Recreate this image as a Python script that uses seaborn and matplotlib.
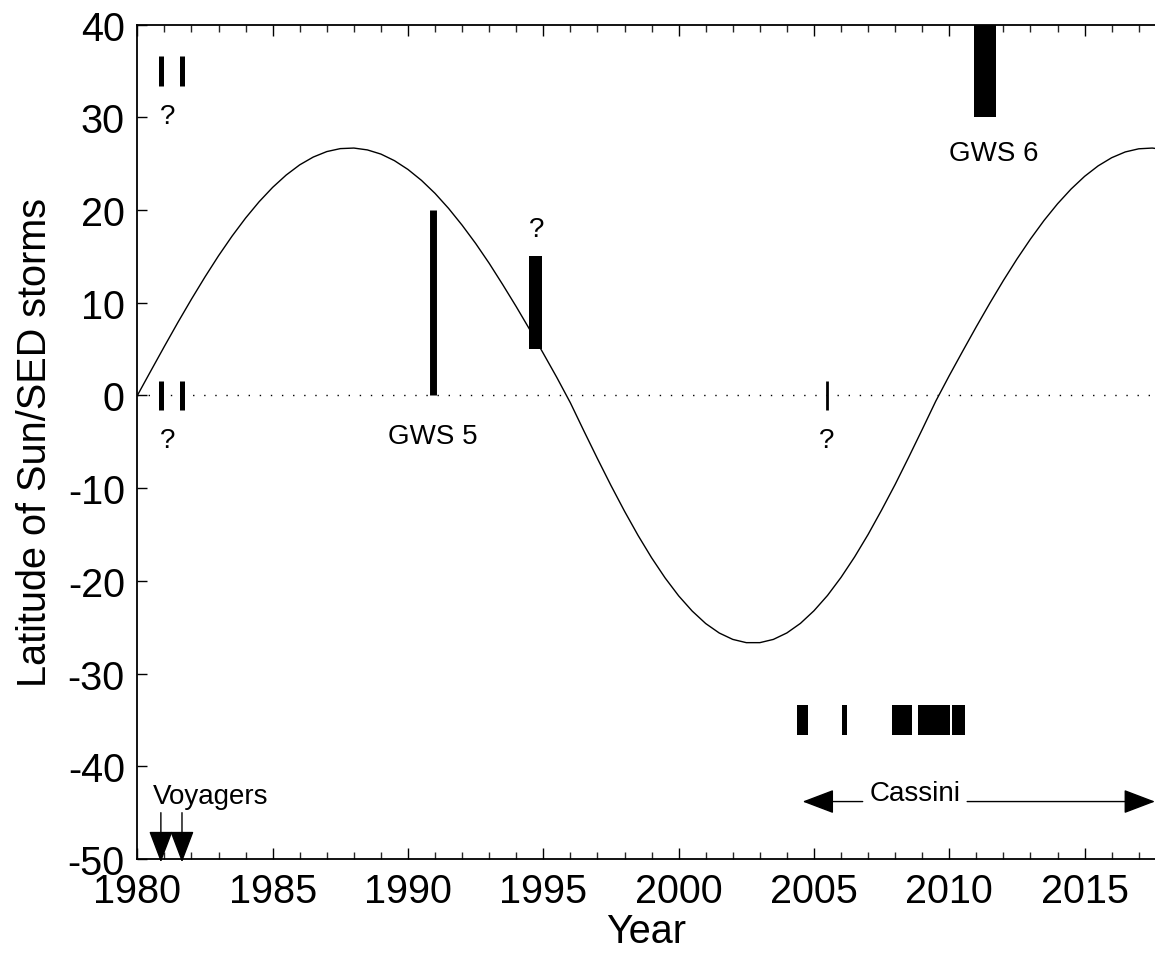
import matplotlib
matplotlib.use("Agg")
import matplotlib.pyplot as plt
import pandas as pd
import seaborn as sns

# Sub-solar latitude on Saturn, sampled every half year from 1980.0 to 2018.0
years = [1980 + 0.5 * i for i in range(77)]
sun_latitude = [
    0.0, 2.66, 5.30, 7.89, 10.39, 12.79, 15.07, 17.19, 19.14, 20.90,
    22.45, 23.78, 24.88, 25.72, 26.31, 26.63, 26.69, 26.49, 26.04, 25.33,
    24.38, 23.20, 21.80, 20.18, 18.37, 16.40, 14.26, 11.96, 9.58, 7.10,
    4.54, 1.94, -0.79, -3.83, -6.81, -9.71, -12.48, -15.09, -17.50, -19.68,
    -21.61, -23.25, -24.60, -25.62, -26.31, -26.66, -26.66, -26.31, -25.61, -24.58,
    -23.22, -21.57, -19.62, -17.42, -14.99, -12.35, -9.59, -6.66, -3.66, -0.61,
    2.15, 4.81, 7.43, 9.97, 12.41, 14.72, 16.88, 18.88, 20.68, 22.27,
    23.64, 24.77, 25.65, 26.27, 26.61, 26.69, 26.50,
]

# Voyager-era SED storms (uncertain latitude: +35 or 0)
voyager_storm_years = [1980.87, 1981.65]
voyager_storm_lats = [35, 0]

# Great White Spot 1990 (0 to 20 deg)
gws5_year = 1990.92
gws5_lat = (0, 20)

# 1994 storm (5 to 15 deg)
storm94_span = (1994.46, 1994.95)
storm94_lat = (5, 15)

# Great White Spot 2010/2011 (30 to 40 deg)
gws6_span = (2010.91, 2011.71)
gws6_lat = (30, 40)

# 2005 storm of uncertain latitude
storm05_year = 2005.47

# Cassini storms in the -35 deg "storm alley"
cassini_storm_start = [2004.38, 2006.04, 2007.89, 2008.83, 2010.11]
cassini_storm_end = [2004.79, 2006.23, 2008.61, 2010.02, 2010.58]
cassini_storm_lat = -35

# Spacecraft epochs
voyager_flybys = [1980.87, 1981.65]
cassini_start = 2004.58

mark_half = 1.6

sns.set_theme(style="ticks")
plt.rcParams["font.family"] = ["Liberation Sans", "DejaVu Sans"]
plt.rcParams["axes.unicode_minus"] = False
plt.rcParams["text.color"] = "black"

fig = plt.figure(figsize=(11.55, 9.54), dpi=100)
ax = fig.add_axes([0.1189, 0.0985, 0.8811, 0.8746])

df = pd.DataFrame({"Year": years, "Latitude": sun_latitude})
sns.lineplot(data=df, x="Year", y="Latitude", ax=ax, color="black", lw=1.0)

# equator
ax.axhline(0, color="black", lw=1.0, ls=(0, (1, 7)), zorder=1)

# short marks for storms of uncertain latitude
for lat in voyager_storm_lats:
    ax.vlines(voyager_storm_years, lat - mark_half, lat + mark_half,
              color="black", lw=3.6)
ax.vlines([storm05_year], -mark_half, mark_half, color="black", lw=2.0)

# GWS 5
ax.vlines([gws5_year], gws5_lat[0], gws5_lat[1], color="black", lw=5.0)

# 1994 storm and GWS 6
for span, lat in [(storm94_span, storm94_lat), (gws6_span, gws6_lat)]:
    ax.bar(span[0], lat[1] - lat[0], width=span[1] - span[0], bottom=lat[0],
           align="edge", color="black", edgecolor="none")

# Cassini storms
ax.bar(cassini_storm_start,
       [2 * mark_half] * len(cassini_storm_start),
       width=[e - s for s, e in zip(cassini_storm_start, cassini_storm_end)],
       bottom=cassini_storm_lat - mark_half, align="edge",
       color="black", edgecolor="none")

small = 20
txt = dict(fontsize=small, color="black")
ax.text(1981.13, 30.1, "?", ha="center", va="center", **txt)
ax.text(1981.13, -4.8, "?", ha="center", va="center", **txt)
ax.text(1994.77, 18.0, "?", ha="center", va="center", **txt)
ax.text(2005.47, -4.8, "?", ha="center", va="center", **txt)
ax.text(1990.92, -4.4, "GWS 5", ha="center", va="center", **txt)
ax.text(2011.63, 26.2, "GWS 6", ha="center", va="center", **txt)
ax.text(1980.58, -43.2, "Voyagers", ha="left", va="center", **txt)
ax.text(2008.73, -42.9, "Cassini", ha="center", va="center", **txt)

arrow = dict(arrowstyle="-|>,head_length=1.0,head_width=0.38",
             mutation_scale=20, color="black", lw=1.0,
             shrinkA=0, shrinkB=0)
for yr in voyager_flybys:
    ax.annotate("", xy=(yr, -50.35), xytext=(yr, -45.0),
                arrowprops=arrow, annotation_clip=False)
ax.annotate("", xy=(cassini_start, -43.8), xytext=(2006.8, -43.8),
            arrowprops=arrow, annotation_clip=False)
ax.annotate("", xy=(2017.6, -43.8), xytext=(2010.66, -43.8),
            arrowprops=arrow, annotation_clip=False)

ax.set_xlim(1980, 2017.6)
ax.set_ylim(-50, 40)
ax.set_xticks(range(1980, 2016, 5))
ax.set_xticks(range(1980, 2018), minor=True)
ax.set_yticks(range(-50, 41, 10))
ax.tick_params(axis="both", which="major", direction="in", labelsize=28.5,
               width=1.0, color="black", labelcolor="black")
ax.tick_params(axis="x", which="major", length=8, top=True, pad=9)
ax.tick_params(axis="x", which="minor", direction="in", length=5, width=1.0,
               top=True, bottom=True)
ax.tick_params(axis="y", which="major", length=7, pad=9, right=False)

for side in ["left", "top", "bottom"]:
    ax.spines[side].set_color("black")
    ax.spines[side].set_linewidth(1.3)
ax.spines["right"].set_visible(False)

ax.set_xlabel("Year", fontsize=28.5, labelpad=2, color="black")
ax.set_ylabel("Latitude of Sun/SED storms", fontsize=28.5, labelpad=10, color="black")

fig.savefig("out.png", dpi=100, facecolor="white")
